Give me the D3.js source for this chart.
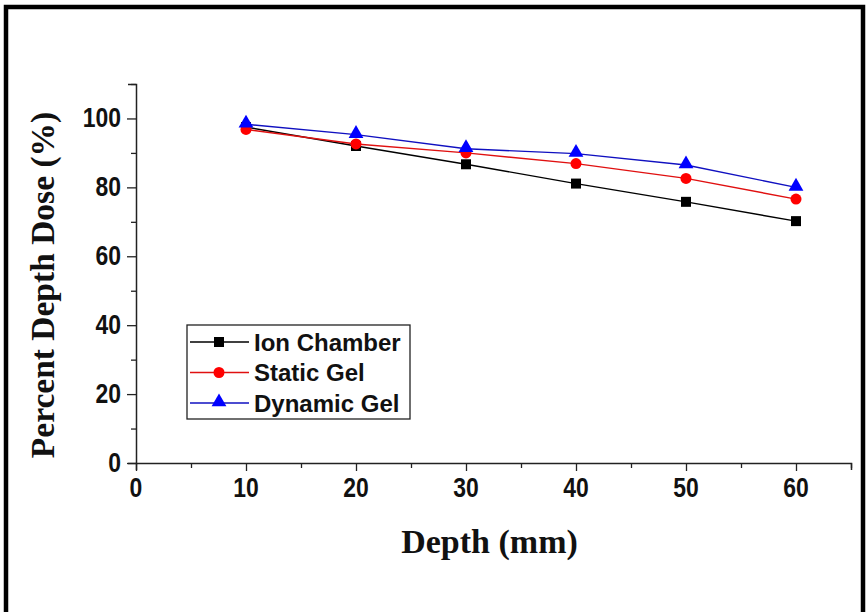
<!DOCTYPE html>
<html><head><meta charset="utf-8">
<script src="https://cdn.jsdelivr.net/npm/d3@7"></script>
<style>body{margin:0;background:#fff}svg{display:block}</style>
</head><body>
<script>
const depths = [10, 20, 30, 40, 50, 60];
const ionChamber = [97.5, 92.0, 86.7, 81.1, 75.8, 70.2];
const staticGel = [96.8, 92.6, 90.0, 86.9, 82.6, 76.6];
const dynamicGel = [98.3, 95.3, 91.2, 89.8, 86.5, 80.0];
const seriesNames = ["Ion Chamber", "Static Gel", "Dynamic Gel"];
const xTicks = [0, 10, 20, 30, 40, 50, 60];
const yTicks = [0, 20, 40, 60, 80, 100];

const W = 868, H = 612;
const svg = d3.select("body").append("svg").attr("width", W).attr("height", H);
svg.append("rect").attr("x", 0).attr("y", 0).attr("width", W).attr("height", H).attr("fill", "#fff");
// outer frame
svg.append("rect").attr("x", 6).attr("y", 7).attr("width", 857).attr("height", 620)
  .attr("fill", "none").attr("stroke", "#000").attr("stroke-width", 4.5);

const x = d3.scaleLinear().domain([0, 65]).range([136, 851]);
const y = d3.scaleLinear().domain([0, 110]).range([463, 84]);

const tickFont = "'Liberation Sans', Arial, sans-serif";
// x axis
const gx = svg.append("g").attr("transform", `translate(0,${y(0)})`);
gx.call(d3.axisBottom(x).tickValues(d3.range(0, 66, 5)).tickSize(7).tickFormat(""));
gx.selectAll(".tick line").attr("stroke", "#222").attr("stroke-width", 1.3)
  .attr("y2", d => d % 10 === 0 ? 8 : 5);
gx.select(".domain").attr("stroke", "#222").attr("stroke-width", 1.5);
gx.selectAll(".xl").data(xTicks).enter().append("text")
  .attr("transform", d => `translate(${x(d)},34) scale(0.85,1)`)
  .attr("text-anchor", "middle").attr("font-family", tickFont).attr("font-weight", "bold")
  .attr("font-size", 27).attr("fill", "#111").text(d => d);

// y axis
const gy = svg.append("g").attr("transform", `translate(${x(0)},0)`);
gy.call(d3.axisLeft(y).tickValues(d3.range(0, 111, 10)).tickSize(8).tickFormat(""));
gy.selectAll(".tick line").attr("stroke", "#222").attr("stroke-width", 1.3)
  .attr("x2", d => d % 20 === 0 ? -9 : -5);
gy.select(".domain").attr("stroke", "#222").attr("stroke-width", 1.5);
gy.selectAll(".yl").data(yTicks).enter().append("text")
  .attr("transform", d => `translate(-15,${y(d) + 9}) scale(0.85,1)`)
  .attr("text-anchor", "end").attr("font-family", tickFont).attr("font-weight", "bold")
  .attr("font-size", 27).attr("fill", "#111").text(d => d);

// axis titles
const serif = "'Liberation Serif', 'Times New Roman', serif";
svg.append("text").attr("x", x(32.5) - 4).attr("y", 553).attr("text-anchor", "middle")
  .attr("font-family", serif).attr("font-weight", "bold").attr("font-size", 34).attr("fill", "#111")
  .text("Depth (mm)");
svg.append("text").attr("transform", `translate(54,285) rotate(-90)`).attr("text-anchor", "middle")
  .attr("font-family", serif).attr("font-weight", "bold").attr("font-size", 33.5).attr("fill", "#111")
  .text("Percent Depth Dose (%)");

const series = [
  {name: seriesNames[0], vals: ionChamber, line: "#000", fill: "#000", shape: "square"},
  {name: seriesNames[1], vals: staticGel, line: "#e01010", fill: "#ff0000", shape: "circle"},
  {name: seriesNames[2], vals: dynamicGel, line: "#1010c0", fill: "#0000ff", shape: "triangle"}
];
const symFor = s => s === "square" ? d3.symbol(d3.symbolSquare, 100)
  : s === "circle" ? d3.symbol(d3.symbolCircle, 95) : d3.symbol(d3.symbolTriangle, 95);

const line = d3.line().x(d => x(d[0])).y(d => y(d[1]));
series.forEach(s => {
  const pts = depths.map((d, i) => [d, s.vals[i]]);
  svg.append("path").datum(pts).attr("d", line).attr("fill", "none")
    .attr("stroke", s.line).attr("stroke-width", 1.4);
});
series.forEach(s => {
  const pts = depths.map((d, i) => [d, s.vals[i]]);
  svg.selectAll(null).data(pts).enter().append("path")
    .attr("d", symFor(s.shape)())
    .attr("transform", d => `translate(${x(d[0])},${y(d[1]) - (s.shape === "triangle" ? 1 : 0)})`)
    .attr("fill", s.fill);
});

// legend
const lg = svg.append("g");
lg.append("rect").attr("x", 187).attr("y", 325).attr("width", 223).attr("height", 94)
  .attr("fill", "#fff").attr("stroke", "#222").attr("stroke-width", 1.3);
series.forEach((s, i) => {
  const cy = 342 + i * 30.5;
  lg.append("line").attr("x1", 190).attr("x2", 249).attr("y1", cy).attr("y2", cy)
    .attr("stroke", s.line).attr("stroke-width", 1.4);
  lg.append("path").attr("d", symFor(s.shape)()).attr("transform", `translate(219,${cy - (s.shape === "triangle" ? 1 : 0)})`)
    .attr("fill", s.fill);
  lg.append("text").attr("x", 254).attr("y", cy + 8.5).attr("font-family", tickFont)
    .attr("font-weight", "bold").attr("font-size", 24).attr("fill", "#111").text(s.name);
});
</script>
</body></html>
